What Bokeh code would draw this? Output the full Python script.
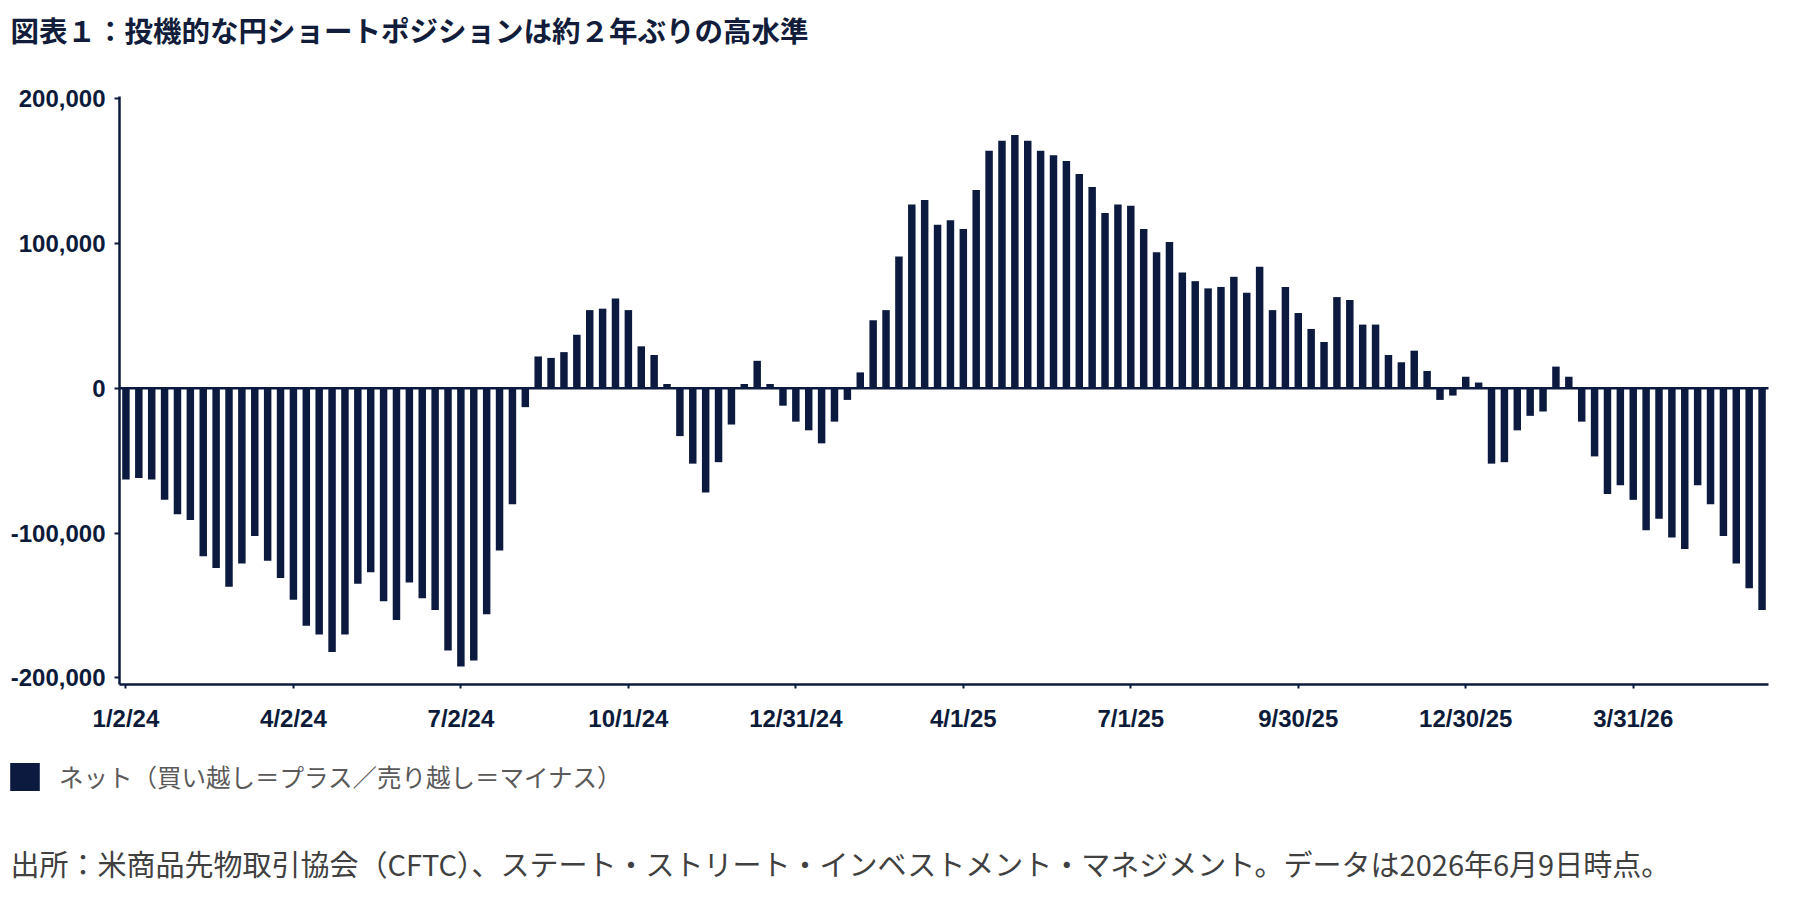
import pandas as pd
from bokeh.plotting import figure
from bokeh.models import (ColumnDataSource, Legend, LegendItem, Label, LinearAxis,
                          FixedTicker, NumeralTickFormatter)
from bokeh.embed import file_html
from bokeh.resources import INLINE

# ---------------- data ----------------
start_date = "2024-01-02"
n_weeks = 128
# net speculative yen positions (contracts)
net_position = [
    -63000, -62000, -63000, -77000, -87000, -91000, -116000, -124000, -137000, -121000,
    -102000, -119000, -131000, -146000, -164000, -170000, -182000, -170000, -135000, -127000,
    -147000, -160000, -134000, -145000, -153000, -181000, -192000, -188000, -156000, -112000,
    -80000, -13000, 22000, 21000, 25000, 37000, 54000, 55000, 62000, 54000,
    29000, 23000, 3000, -33000, -52000, -72000, -51000, -25000, 3000, 19000,
    3000, -12000, -23000, -29000, -38000, -23000, -8000, 11000, 47000, 54000,
    91000, 127000, 130000, 113000, 116000, 110000, 137000, 164000, 171000, 175000,
    171000, 164000, 161000, 157000, 148000, 139000, 121000, 127000, 126000, 110000,
    94000, 101000, 80000, 74000, 69000, 70000, 77000, 66000, 84000, 54000,
    70000, 52000, 41000, 32000, 63000, 61000, 44000, 44000, 23000, 18000,
    26000, 12000, -8000, -5000, 8000, 4000, -52000, -51000, -29000, -19000,
    -16000, 15000, 8000, -23000, -47000, -73000, -67000, -77000, -98000, -90000,
    -103000, -111000, -67000, -80000, -102000, -121000, -138000, -153000,
]
tick_labels = ["1/2/24", "4/2/24", "7/2/24", "10/1/24", "12/31/24",
               "4/1/25", "7/1/25", "9/30/25", "12/30/25", "3/31/26"]
y_ticks = [-200000, -100000, 0, 100000, 200000]
y_lo, y_hi = -204500, 201500

title_text = "図表１：投機的な円ショートポジションは約２年ぶりの高水準"
legend_text = "ネット（買い越し＝プラス／売り越し＝マイナス）"
source_text = ("出所：米商品先物取引協会（CFTC）、ステート・ストリート・インベストメント・"
               "マネジメント。データは2026年6月9日時点。")

# ---------------- geometry (canvas pixels) ----------------
W, H = 1784, 884
AX_L, AX_R, AX_T, AX_B = 119, 1768, 96, 684   # plotting box inside the canvas

dates = pd.date_range(start_date, periods=n_weeks, freq="7D")
date_labels = [f"{d.month}/{d.day}/{d.strftime('%y')}" for d in dates]
idx = list(range(n_weeks))
tick_pos = [i for i, lab in enumerate(date_labels) if lab in tick_labels]

x_lo, x_hi = idx[0] - 0.5, idx[-1] + 0.5
sx = (AX_R - AX_L) / (x_hi - x_lo)
sy = (AX_B - AX_T) / (y_hi - y_lo)
x_start, x_end = x_lo - AX_L / sx, x_hi + (W - AX_R) / sx
y_end, y_start = y_hi + AX_T / sy, y_lo - (H - AX_B) / sy


def px_x(c):
    return x_start + c / sx


def px_y(c):
    return y_end - c / sy


NAVY = "#0b1a3e"
TXT = "#0d1b3a"

src = ColumnDataSource(dict(x=idx, y=net_position, date=date_labels))

p = figure(width=W, height=H, output_backend="svg", toolbar_location=None,
           x_range=(x_start, x_end), y_range=(y_start, y_end),
           x_axis_location=None, y_axis_location=None, min_border=0, title=None)
p.outline_line_color = None
p.grid.visible = False
p.background_fill_color = "white"
p.border_fill_color = "white"

r = p.vbar(x="x", top="y", bottom=0, width=0.58, source=src,
           fill_color=NAVY, line_color=None)

# zero line across the plotting box
p.line(x=[x_lo, x_hi], y=[0, 0], line_color=NAVY, line_width=2.5)

# x axis
xa = LinearAxis(fixed_location=y_lo, bounds=(x_lo, x_hi))
xa.ticker = FixedTicker(ticks=tick_pos)
xa.major_label_overrides = {i: date_labels[i] for i in tick_pos}
xa.minor_tick_line_color = None
xa.major_tick_in = 0
xa.major_tick_out = 4
xa.major_tick_line_color = NAVY
xa.major_tick_line_width = 2
xa.axis_line_color = NAVY
xa.axis_line_width = 2.5
xa.major_label_text_font = "Liberation Sans"
xa.major_label_text_font_style = "bold"
xa.major_label_text_font_size = "24px"
xa.major_label_text_color = TXT
xa.major_label_standoff = 16
p.add_layout(xa, "below")

# y axis
ya = LinearAxis(fixed_location=x_lo, bounds=(y_lo, y_hi))
ya.ticker = FixedTicker(ticks=y_ticks)
ya.formatter = NumeralTickFormatter(format="0,0")
ya.minor_tick_line_color = None
ya.major_tick_in = 0
ya.major_tick_out = 5
ya.major_tick_line_color = NAVY
ya.major_tick_line_width = 2
ya.axis_line_color = NAVY
ya.axis_line_width = 2.5
ya.major_label_text_font = "Liberation Sans"
ya.major_label_text_font_style = "bold"
ya.major_label_text_font_size = "24px"
ya.major_label_text_color = TXT
ya.major_label_standoff = 9
p.add_layout(ya, "left")

# title
p.add_layout(Label(x=px_x(10), y=px_y(29), text=title_text,
                   text_baseline="middle", text_align="left",
                   text_font="Noto Sans CJK JP", text_font_style="bold",
                   text_font_size="28.5px", text_color="#111d3a"))

# legend (location in pixels from the bottom-left corner)
legend = Legend(items=[LegendItem(label=legend_text, renderers=[r])],
                location=(6, H - 794), orientation="horizontal",
                glyph_width=37, glyph_height=35, label_standoff=16,
                padding=0, margin=0, spacing=0, label_height=35,
                label_text_font="Noto Sans CJK JP", label_text_font_size="24.5px",
                label_text_color="#5a5a5a", label_text_baseline="middle",
                background_fill_alpha=0, border_line_alpha=0)
p.add_layout(legend, "center")

# source note
p.add_layout(Label(x=px_x(10), y=px_y(862), text=source_text,
                   text_baseline="middle", text_align="left",
                   text_font="Noto Sans CJK JP", text_font_style="normal",
                   text_font_size="29px", text_color="#404040"))

open("out.html", "w").write(file_html(p, INLINE))
